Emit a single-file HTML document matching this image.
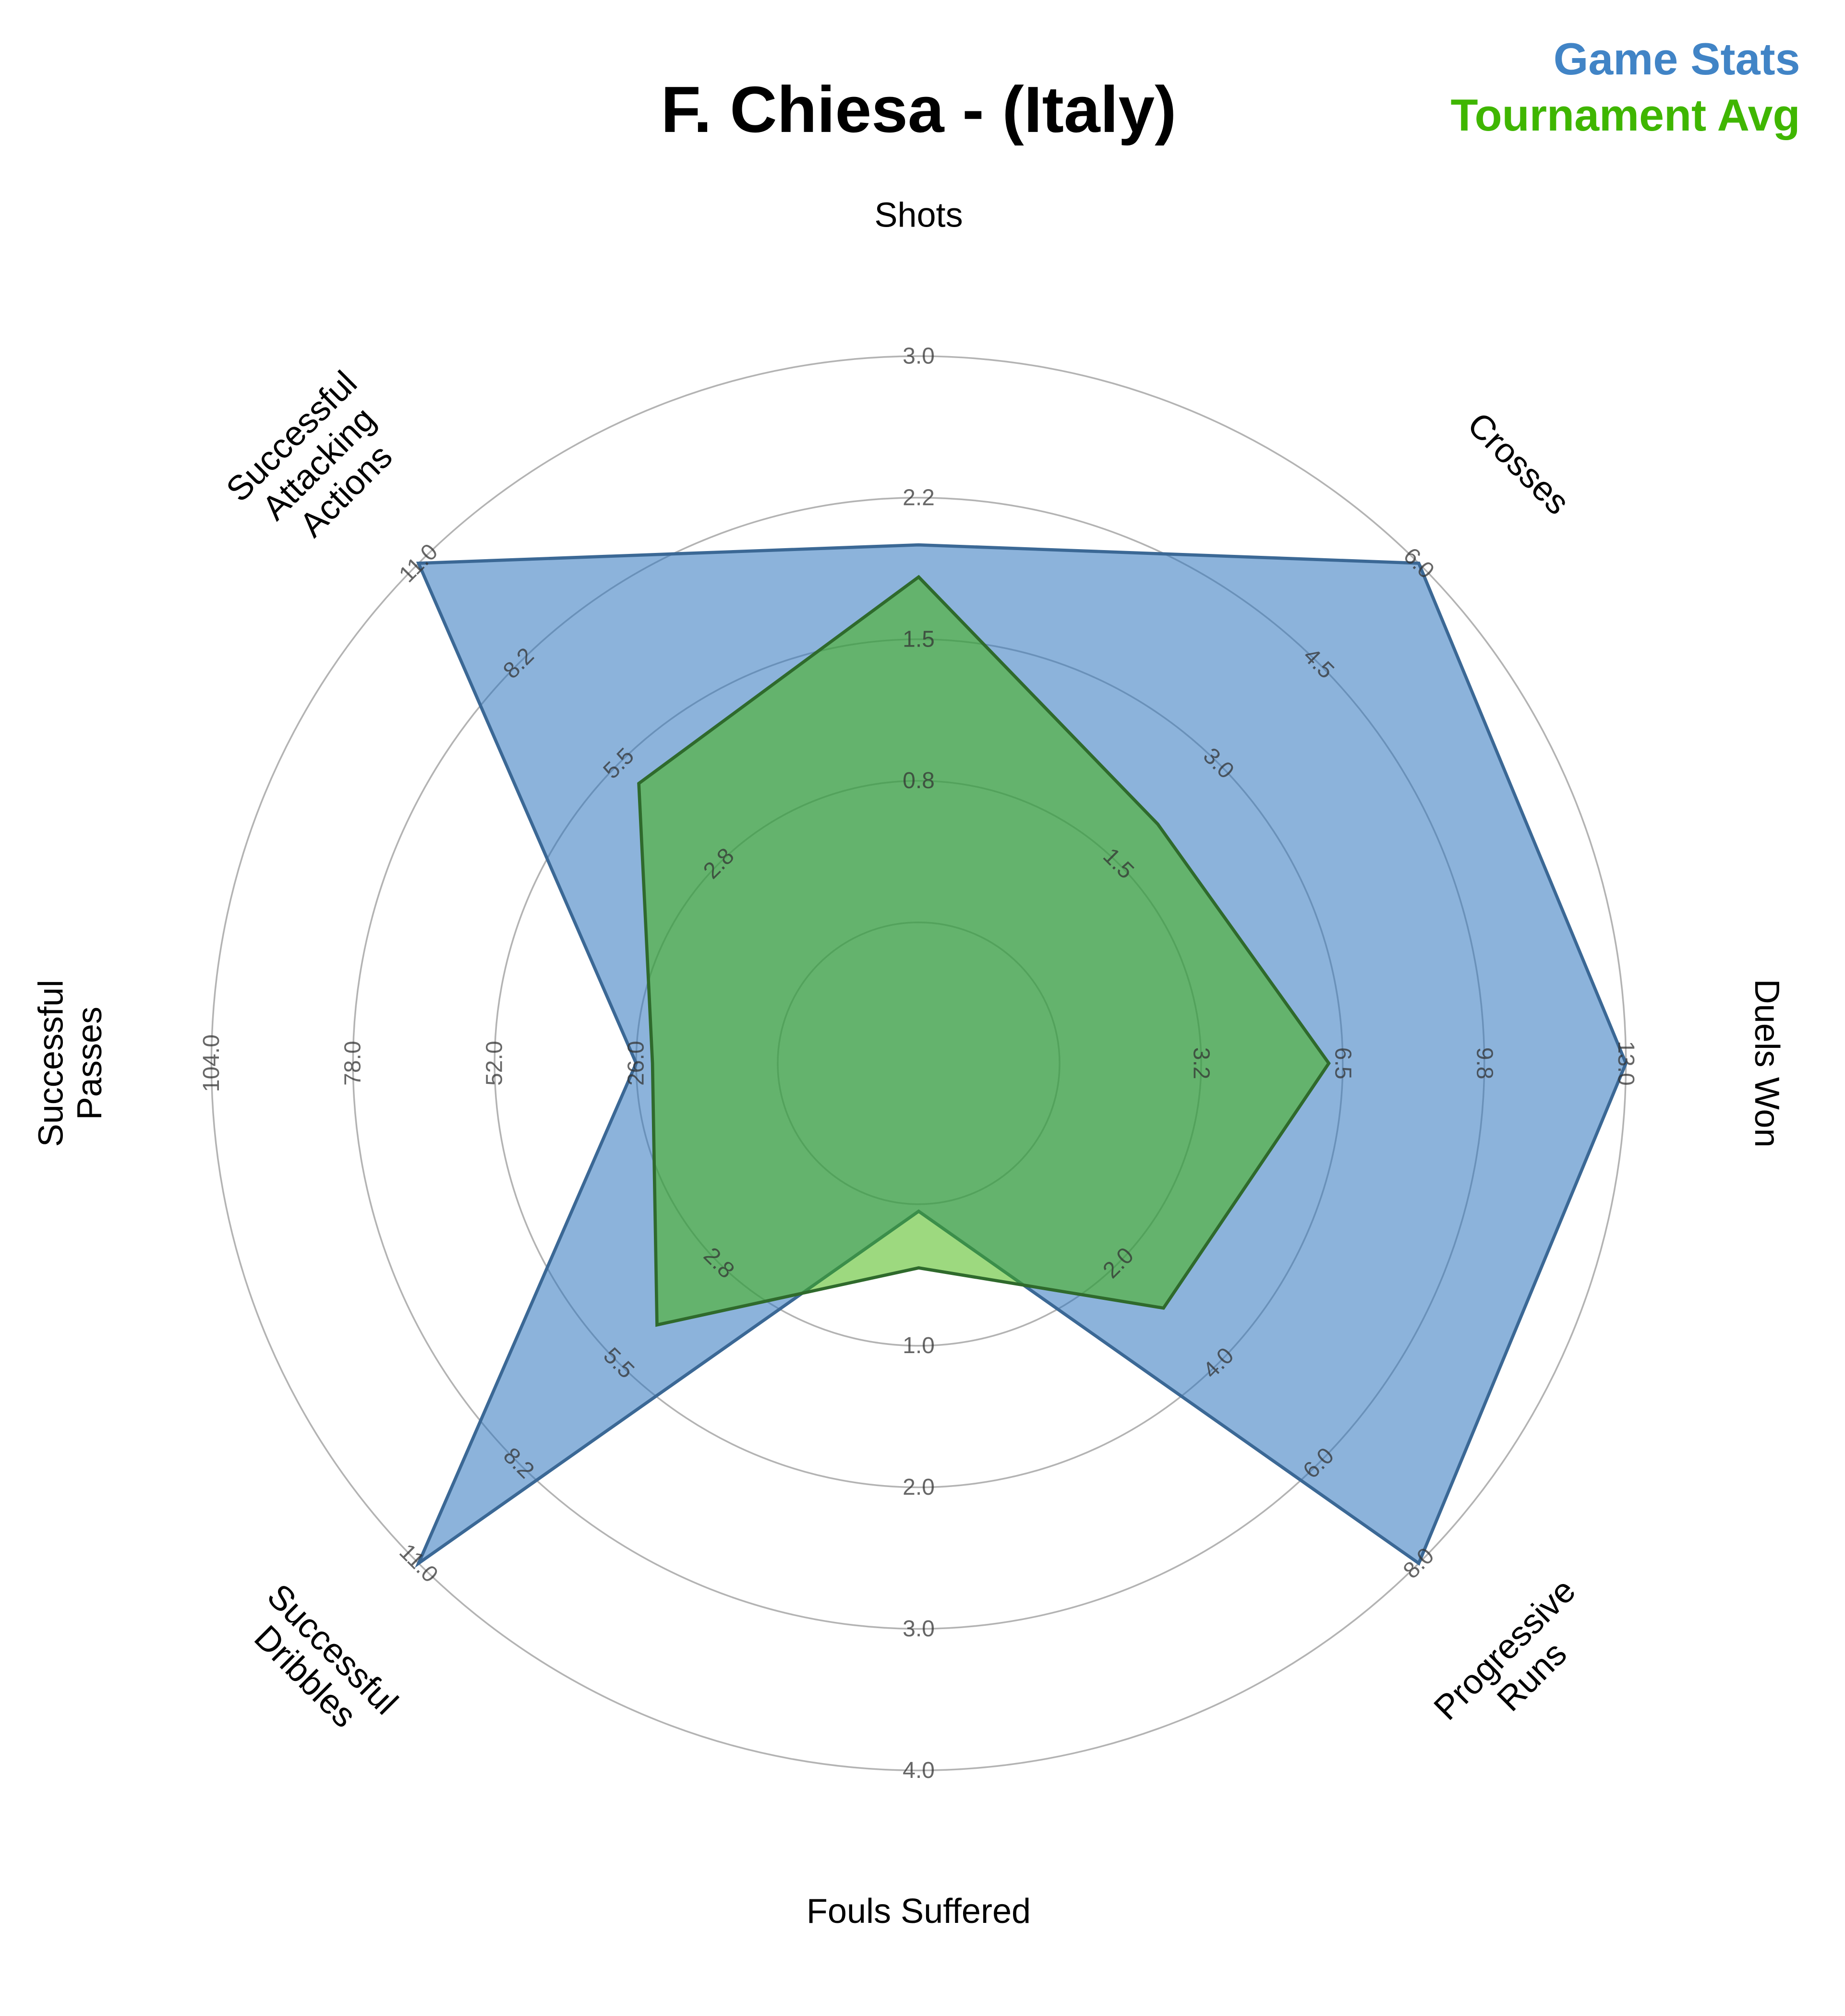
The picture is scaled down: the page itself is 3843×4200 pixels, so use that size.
<!DOCTYPE html>
<html><head><meta charset="utf-8"><title>F. Chiesa radar</title>
<style>
html,body{margin:0;padding:0;background:#fff;}
svg{display:block;font-family:"Liberation Sans",sans-serif;}
</style></head>
<body>
<svg id="chart" width="3843" height="4200" viewBox="0 0 1440 1573.7" preserveAspectRatio="none" xmlns="http://www.w3.org/2000/svg">
  <rect width="1440" height="1574" fill="#fff"/>
  <text x="717" y="103" text-anchor="middle" font-size="51" font-weight="bold" fill="#000">F. Chiesa - (Italy)</text>
  <text x="1405" y="58" text-anchor="end" font-size="35" font-weight="bold" fill="#4184c6">Game Stats</text>
  <text x="1405" y="102" text-anchor="end" font-size="35" font-weight="bold" fill="#3fb600">Tournament Avg</text>
  <g id="grid"></g>
  <g id="series"></g>
  <g id="ticks"></g>
  <g id="cats"></g>
</svg>
<script>
const categories = [["Shots"],["Crosses"],["Duels Won"],["Progressive","Runs"],["Fouls Suffered"],["Successful","Dribbles"],["Successful","Passes"],["Successful","Attacking","Actions"]];
const maxValues = [3, 6, 13, 8, 4, 11, 104, 11];
const gameStats = [2, 6, 13, 8, 0.05, 11, 26, 11];
const tournamentAvg = [1.83, 2.09, 6.18, 2.9, 0.45, 4.45, 23, 4.95];
const tickFractions = [0.25, 0.5, 0.75, 1.0];

const NS = "http://www.w3.org/2000/svg";
const CX = 717, CY = 830, R0 = 110, RSPAN = 442;
function angleOf(i){ return 90 - i * 45; }
function rOf(i, v){ return R0 + (v / maxValues[i]) * RSPAN; }
function pt(i, r){ const a = angleOf(i) * Math.PI / 180; return [CX + r * Math.cos(a), CY - r * Math.sin(a)]; }
function mk(tag, attrs, parent){ const e = document.createElementNS(NS, tag); for (const k in attrs) e.setAttribute(k, attrs[k]); parent.appendChild(e); return e; }
function rotOf(i){
  let rot = 90 - angleOf(i);
  rot = ((rot % 360) + 360) % 360;
  if (rot > 180) rot -= 360;
  if (rot > 90) rot -= 180;
  if (rot < -90) rot += 180;
  return rot;
}

const grid = document.getElementById('grid');
for (let k = 0; k <= 4; k++) {
  const c = mk('circle', {cx: CX, cy: CY, r: R0 + k * RSPAN / 4, fill: 'none', stroke: '#b3b3b3', 'stroke-width': 1.3}, grid);
  
  
}

const series = document.getElementById('series');
function poly(vals, fill, op, stroke, name){
  const pts = vals.map((v, i) => pt(i, rOf(i, v)).join(',')).join(' ');
  const p = mk('polygon', {points: pts, fill: fill, 'fill-opacity': op, stroke: stroke, 'stroke-width': 2.5, 'stroke-linejoin': 'miter'}, series);
  
  
}
poly(gameStats, '#2e75bd', 0.55, '#3b6895', 'game-stats-area');
poly(tournamentAvg, '#3cb400', 0.5, '#2f6a2c', 'tournament-avg-area');

const ticks = document.getElementById('ticks');
categories.forEach((c, i) => {
  const rot = rotOf(i);
  tickFractions.forEach(f => {
    const v = maxValues[i] * f;
    const [x, y] = pt(i, R0 + f * RSPAN);
    const t = mk('text', {x: x, y: y, 'text-anchor': 'middle', 'dominant-baseline': 'central', 'font-size': 18, 'font-weight': 300, fill: '#333', 'fill-opacity': 0.75, transform: `rotate(${rot} ${x} ${y})`}, ticks);
    let s = (Math.round(v * 10) / 10).toFixed(1);
    if (f === 0.25 && maxValues[i] === 11) s = '2.8';
    if (f === 0.75 && maxValues[i] === 11) s = '8.2';
    if (f === 0.25 && maxValues[i] === 13) s = '3.2';
    if (f === 0.75 && maxValues[i] === 13) s = '9.8';
    if (f === 0.75 && maxValues[i] === 3) s = '2.2';
    if (f === 0.25 && maxValues[i] === 3) s = '0.8';
    t.textContent = s;
    
    
  });
});

const cats = document.getElementById('cats');
categories.forEach((lines, i) => {
  const rot = rotOf(i);
  const [x, y] = pt(i, 662);
  const g = mk('g', {transform: `rotate(${rot} ${x} ${y})`}, cats);
  
  
  const lh = 30, n = lines.length;
  lines.forEach((s, j) => {
    const t = mk('text', {x: x, y: y + (j - (n - 1) / 2) * lh, 'text-anchor': 'middle', 'dominant-baseline': 'central', 'font-size': 27, fill: '#000'}, g);
    t.textContent = s;
    
    
  });
});
</script>
</body></html>
